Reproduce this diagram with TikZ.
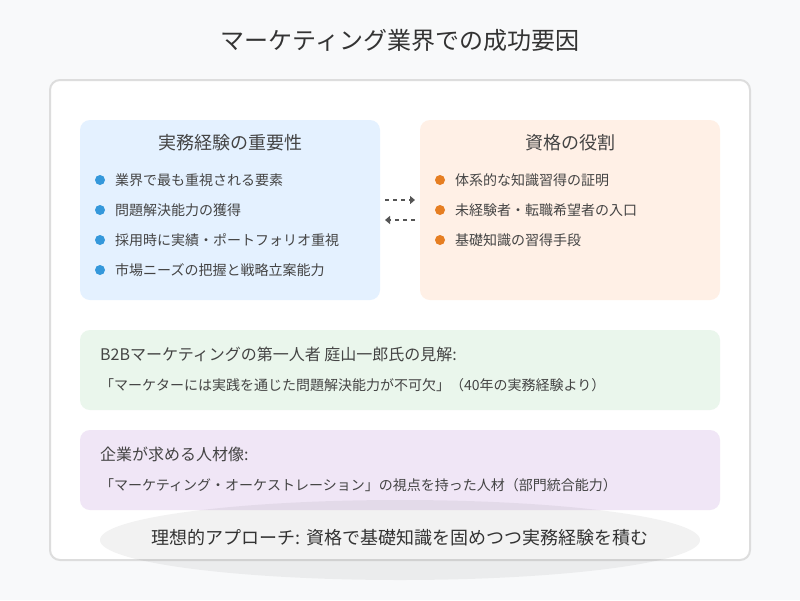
\documentclass[tikz,border=0pt]{standalone}
\usepackage{fontspec}
\setmainfont{Noto Sans CJK JP}
\usetikzlibrary{arrows.meta, shapes.geometric}
\definecolor{pagebg}{HTML}{F8F9FA}
\definecolor{panelline}{HTML}{DDDDDD}
\definecolor{bluebg}{HTML}{E4F1FF}
\definecolor{orangebg}{HTML}{FFF0E6}
\definecolor{greenbg}{HTML}{EAF6EC}
\definecolor{purplebg}{HTML}{F0E6F6}
\definecolor{bluedot}{HTML}{3498DB}
\definecolor{orangedot}{HTML}{E67E22}
\definecolor{ink}{HTML}{333333}
\definecolor{softink}{HTML}{444444}
\definecolor{arrowink}{HTML}{555555}
\tikzset{
    card/.style={rectangle, rounded corners=10pt, inner sep=0pt},
    heading/.style={text=softink, inner sep=0pt, font=\fontsize{18pt}{20pt}\selectfont},
    bodytext/.style={text=softink, inner sep=0pt, anchor=west, font=\fontsize{14pt}{16pt}\selectfont},
    leadtext/.style={text=softink, inner sep=0pt, anchor=west, font=\fontsize{16pt}{18pt}\selectfont},
    bluebullet/.style={circle, fill=bluedot, inner sep=0pt, minimum size=10pt},
    orangebullet/.style={circle, fill=orangedot, inner sep=0pt, minimum size=10pt},
    link/.style={-{Triangle[length=5pt,width=8pt]}, arrowink, line width=1.5pt, dash pattern=on 4pt off 4pt}
}

\begin{document}
\begin{tikzpicture}[x=1pt, y=-1pt]
        \useasboundingbox (0, 0) rectangle (800, 600);
        \fill[pagebg] (0, 0) rectangle (800, 600);

        \node[text=ink, inner sep=0pt, font=\fontsize{24pt}{28pt}\selectfont] at (400, 40)   (title) {マーケティング業界での成功要因};
        \node[card, draw=panelline, line width=2pt, fill=white, minimum width=700pt, minimum height=480pt] at (400, 320)   (panel) {};

        \node[card, fill=bluebg, minimum width=300pt, minimum height=180pt] at (230, 210)   (practice) {};
        \node[heading] at (230, 143)   (practice_title) {実務経験の重要性};
        \node[bluebullet] at (100, 180)   (p_dot1) {};
        \node[bluebullet] at (100, 210)   (p_dot2) {};
        \node[bluebullet] at (100, 240)   (p_dot3) {};
        \node[bluebullet] at (100, 270)   (p_dot4) {};
        \node[bodytext] at (115, 180)   (p_item1) {業界で最も重視される要素};
        \node[bodytext] at (115, 210)   (p_item2) {問題解決能力の獲得};
        \node[bodytext] at (115, 240)   (p_item3) {採用時に実績・ポートフォリオ重視};
        \node[bodytext] at (115, 270)   (p_item4) {市場ニーズの把握と戦略立案能力};

        \node[card, fill=orangebg, minimum width=300pt, minimum height=180pt] at (570, 210)   (license) {};
        \node[heading] at (570, 143)   (license_title) {資格の役割};
        \node[orangebullet] at (440, 180)   (l_dot1) {};
        \node[orangebullet] at (440, 210)   (l_dot2) {};
        \node[orangebullet] at (440, 240)   (l_dot3) {};
        \node[bodytext] at (455, 180)   (l_item1) {体系的な知識習得の証明};
        \node[bodytext] at (455, 210)   (l_item2) {未経験者・転職希望者の入口};
        \node[bodytext] at (455, 240)   (l_item3) {基礎知識の習得手段};

        \coordinate (top_l) at (385, 200);
        \coordinate (top_r) at (415, 200);
        \coordinate (low_l) at (385, 220);
        \coordinate (low_r) at (415, 220);
        \draw [link] (top_l) -- (top_r);
        \draw [link] (low_r) -- (low_l);

        \node[card, fill=greenbg, minimum width=640pt, minimum height=80pt] at (400, 370)   (expert) {};
        \node[leadtext] at (100, 354)   (expert_lead) {B2Bマーケティングの第一人者 庭山一郎氏の見解:};
        \node[bodytext] at (100, 385)   (expert_body) {「マーケターには実践を通じた問題解決能力が不可欠」（40年の実務経験より）};

        \node[card, fill=purplebg, minimum width=640pt, minimum height=80pt] at (400, 470)   (talent) {};
        \node[leadtext] at (100, 454)   (talent_lead) {企業が求める人材像:};
        \node[bodytext] at (100, 485)   (talent_body) {「マーケティング・オーケストレーション」の視点を持った人材（部門統合能力）};

        \node[ellipse, fill=black, fill opacity=.05, inner sep=0pt, minimum width=600pt, minimum height=80pt] at (400, 540)   (approach) {};
        \node[text=ink, inner sep=0pt, font=\fontsize{18pt}{20pt}\selectfont] at (400, 538)   (approach_text) {理想的アプローチ: 資格で基礎知識を固めつつ実務経験を積む};
    \end{tikzpicture}
\end{document}
